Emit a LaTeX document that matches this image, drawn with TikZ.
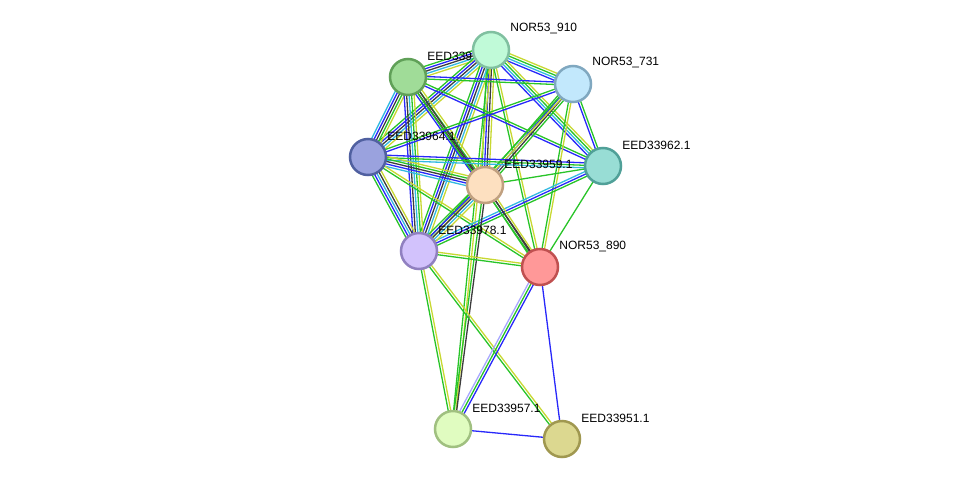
\documentclass[tikz,border=0pt]{standalone}
\usepackage{fontspec}
\setmainfont{Liberation Sans}
\usetikzlibrary{calc}
\definecolor{nbh}{RGB}{40,196,40}
\definecolor{cooc}{RGB}{40,40,250}
\definecolor{coexp}{RGB}{60,60,60}
\definecolor{db}{RGB}{50,185,225}
\definecolor{txt}{RGB}{200,216,50}
\definecolor{hom}{RGB}{168,168,255}
% node fills and rims
\definecolor{fa}{RGB}{160,220,152}\definecolor{ra}{RGB}{96,160,88}
\definecolor{fb}{RGB}{192,250,216}\definecolor{rb}{RGB}{128,192,160}
\definecolor{fc}{RGB}{194,232,252}\definecolor{rc}{RGB}{128,168,192}
\definecolor{fd}{RGB}{154,162,222}\definecolor{rd}{RGB}{80,96,160}
\definecolor{fe}{RGB}{152,221,213}\definecolor{re}{RGB}{80,160,152}
\definecolor{ff}{RGB}{253,224,192}\definecolor{rf}{RGB}{192,160,128}
\definecolor{fg}{RGB}{210,194,252}\definecolor{rg}{RGB}{144,128,192}
\definecolor{fh}{RGB}{255,152,152}\definecolor{rh}{RGB}{192,80,80}
\definecolor{fi}{RGB}{224,252,192}\definecolor{ri}{RGB}{160,192,128}
\definecolor{fj}{RGB}{220,216,144}\definecolor{rj}{RGB}{160,152,80}
\pgfdeclarelayer{background}
\pgfsetlayers{background,main}
\tikzstyle{protein}=[circle, draw, line width=2.5pt, minimum size=36pt, inner sep=0]
\tikzstyle{lbl}=[inner sep=0, yshift=21pt, font=\fontsize{12}{14}\selectfont]
\tikzstyle{ln}=[line width=1.3pt]
\newcount\lnkcount
% one parallel line per evidence colour
\newcommand{\lnk}[3]{%
  \global\lnkcount=0
  \foreach \c in {#3} {\global\advance\lnkcount by 1}
  \begin{pgfonlayer}{background}
  \foreach \c [count=\i] in {#3} {
    \pgfmathsetmacro{\off}{(\i-(\the\lnkcount+1)/2)*2.5}
    \draw[ln, \c] ($(#1)!\off pt!90:(#2)$) -- ($(#2)!\off pt!-90:(#1)$);
  }
  \end{pgfonlayer}
}
\begin{document}
\begin{tikzpicture}[x=1pt, y=-1pt]
  \useasboundingbox (0,0) rectangle (975,485);
  \node[protein, fill=fa, draw=ra, label={[lbl]0:EED339}] (e339) at (408,77) {};
  \node[protein, fill=fb, draw=rb, label={[lbl]0:NOR53\_910}] (n910) at (491,50) {};
  \node[protein, fill=fc, draw=rc, label={[lbl]0:NOR53\_731}] (n731) at (573,84) {};
  \node[protein, fill=fd, draw=rd, label={[lbl]0:EED33964.1}] (e964) at (368,157) {};
  \node[protein, fill=fe, draw=re, label={[lbl]0:EED33962.1}] (e962) at (603,166) {};
  \node[protein, fill=ff, draw=rf, label={[lbl]0:EED33959.1}] (e959) at (485,185) {};
  \node[protein, fill=fg, draw=rg, label={[lbl]0:EED33978.1}] (e978) at (419,251) {};
  \node[protein, fill=fh, draw=rh, label={[lbl]0:NOR53\_890}] (n890) at (540,267) {};
  \node[protein, fill=fi, draw=ri, label={[lbl]0:EED33957.1}] (e957) at (453,429) {};
  \node[protein, fill=fj, draw=rj, label={[lbl]0:EED33951.1}] (e951) at (562,439) {};

  \lnk{n910}{e339}{nbh,cooc,coexp,db,txt}
  \lnk{n910}{n731}{cooc,db,nbh,txt}
  \lnk{n910}{e964}{nbh,cooc,coexp,db,txt}
  \lnk{n910}{e962}{cooc,db,nbh,txt}
  \lnk{n910}{e959}{nbh,cooc,coexp,txt}
  \lnk{n910}{e978}{nbh,cooc,coexp,db,txt}
  \lnk{n910}{n890}{nbh,txt}
  \lnk{n910}{e957}{nbh,txt}
  \lnk{e339}{n731}{nbh,cooc}
  \lnk{e339}{e964}{db,cooc,coexp,nbh,txt}
  \lnk{e339}{e962}{cooc,nbh}
  \lnk{e339}{e959}{cooc,coexp,nbh,txt}
  \lnk{e339}{e978}{cooc,coexp,db,nbh,txt}
  \lnk{e339}{n890}{nbh,coexp}
  \lnk{n731}{e964}{nbh,cooc}
  \lnk{n731}{e962}{cooc,nbh}
  \lnk{n731}{e959}{nbh,cooc,coexp,nbh}
  \lnk{n731}{e978}{nbh,txt}
  \lnk{n731}{n890}{nbh,txt}
  \lnk{e964}{e962}{db,nbh,cooc}
  \lnk{e964}{e959}{db,cooc,coexp,nbh,txt}
  \lnk{e964}{e978}{nbh,cooc,db,coexp,txt}
  \lnk{e964}{n890}{nbh,txt}
  \lnk{e962}{e959}{nbh}
  \lnk{e962}{e978}{db,cooc,nbh}
  \lnk{e962}{n890}{nbh}
  \lnk{e959}{e978}{nbh,cooc,coexp,db,txt}
  \lnk{e959}{n890}{nbh,coexp,txt}
  \lnk{e959}{e957}{nbh,coexp}
  \lnk{e978}{n890}{nbh,txt}
  \lnk{e978}{e957}{nbh,txt}
  \lnk{e978}{e951}{nbh,txt}
  \lnk{n890}{e957}{hom,nbh,cooc}
  \lnk{n890}{e951}{cooc}
  \lnk{e957}{e951}{cooc}
\end{tikzpicture}
\end{document}
